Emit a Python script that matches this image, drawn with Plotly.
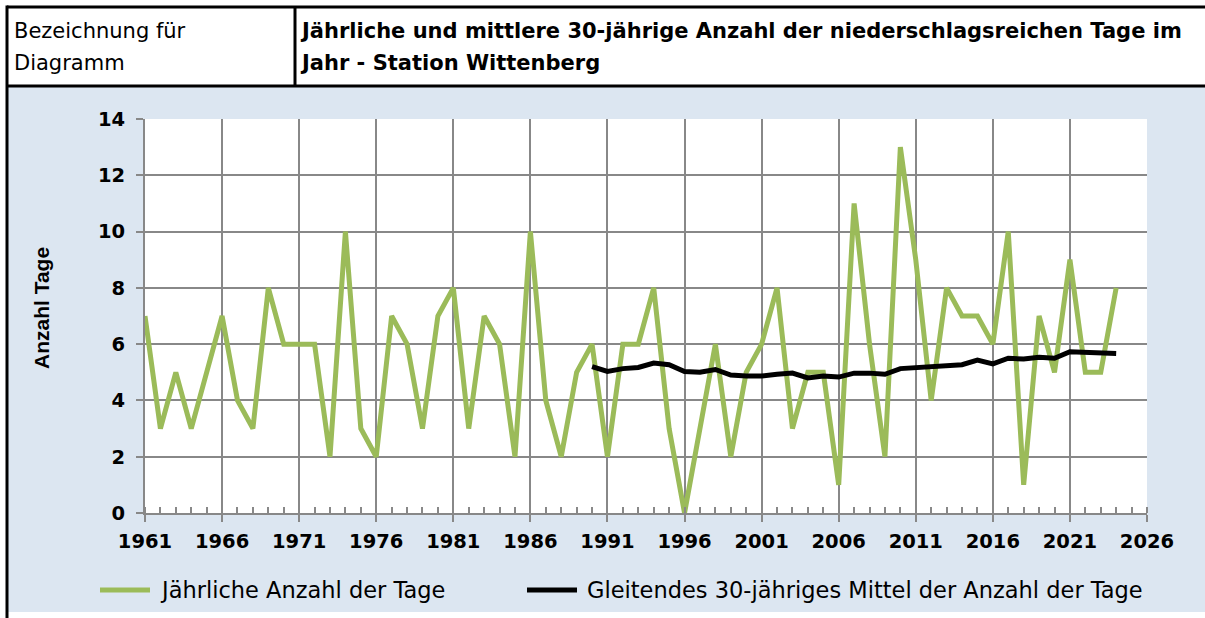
import plotly.graph_objects as go

# ---------------- data ----------------
years = list(range(1961, 2025))
annual_days = [7, 3, 5, 3, 5, 7, 4, 3, 8, 6,
               6, 6, 2, 10, 3, 2, 7, 6, 3, 7,
               8, 3, 7, 6, 2, 10, 4, 2, 5, 6,
               2, 6, 6, 8, 3, 0, 3, 6, 2, 5,
               6, 8, 3, 5, 5, 1, 11, 6, 2, 13,
               9, 4, 8, 7, 7, 6, 10, 1, 7, 5,
               9, 5, 5, 8]
mean_years = list(range(1990, 2025))
mean_30y = [5.20, 5.03, 5.13, 5.17, 5.33, 5.27, 5.03, 5.00, 5.10, 4.90,
            4.87, 4.87, 4.93, 4.97, 4.80, 4.87, 4.83, 4.97, 4.97, 4.93,
            5.13, 5.17, 5.20, 5.23, 5.27, 5.43, 5.30, 5.50, 5.47, 5.53,
            5.50, 5.73, 5.70, 5.67, 5.67]
x_ticks = list(range(1961, 2027, 5))
y_ticks = list(range(0, 15, 2))

series_names = ["Jährliche Anzahl der Tage",
                "Gleitendes 30-jähriges Mittel der Anzahl der Tage"]
header_left = ["Bezeichnung für", "Diagramm"]
header_title = ["Jährliche und mittlere 30-jährige Anzahl der niederschlagsreichen Tage im",
                "Jahr - Station Wittenberg"]
y_title = "Anzahl Tage"

# ---------------- layout geometry ----------------
W, H = 1205, 618
L, R, T, B = 145, 1147, 119, 513
GREEN = "#9BBB59"
BLUE = "#DCE6F1"
GRID = "#888888"


def px(x):
    return (x - L) / (R - L)


def py(y):
    return (B - y) / (B - T)


fig = go.Figure()
fig.add_trace(go.Scatter(x=years, y=annual_days, mode="lines",
                         line=dict(color=GREEN, width=5),
                         name=series_names[0], showlegend=False))
fig.add_trace(go.Scatter(x=mean_years, y=mean_30y, mode="lines",
                         line=dict(color="black", width=5),
                         name=series_names[1], showlegend=False))

shapes = []
# light blue chart panel
shapes.append(dict(type="rect", xref="paper", yref="paper",
                   x0=px(7), x1=px(W + 5), y0=py(86), y1=py(612),
                   fillcolor=BLUE, line=dict(width=0), layer="below"))
# white plot area
shapes.append(dict(type="rect", xref="paper", yref="paper",
                   x0=0, x1=1, y0=0, y1=1,
                   fillcolor="white", line=dict(width=0), layer="below"))
# borders
for (x0, y0, x1, y1) in [(7, 7, W + 5, 7), (7, 86, W + 5, 86),
                         (7, 5.5, 7, H + 5), (295, 7, 295, 86)]:
    shapes.append(dict(type="line", xref="paper", yref="paper",
                       x0=px(x0), x1=px(x1), y0=py(y0), y1=py(y1),
                       line=dict(color="black", width=3)))
# legend samples
shapes.append(dict(type="line", xref="paper", yref="paper",
                   x0=px(100), x1=px(150), y0=py(590), y1=py(590),
                   line=dict(color=GREEN, width=5)))
shapes.append(dict(type="line", xref="paper", yref="paper",
                   x0=px(527), x1=px(577), y0=py(590), y1=py(590),
                   line=dict(color="black", width=5)))

REG = dict(family="DejaVu Sans", size=21, color="black")
LEG = dict(family="DejaVu Sans", size=22.5, color="black")
BOLD = dict(family="DejaVu Sans", size=21, color="black", weight="bold")

annotations = []
for i, t in enumerate(header_left):
    annotations.append(dict(text=t, xref="paper", yref="paper",
                            x=px(12), y=py(31 + 32 * i), xanchor="left",
                            yanchor="middle", showarrow=False, font=REG))
for i, t in enumerate(header_title):
    annotations.append(dict(text=t, xref="paper", yref="paper",
                            x=px(298), y=py(31 + 32 * i), xanchor="left",
                            yanchor="middle", showarrow=False, font=BOLD))
annotations.append(dict(text=y_title, xref="paper", yref="paper",
                        x=px(41), y=py(308), textangle=-90,
                        xanchor="center", yanchor="middle", showarrow=False,
                        font=dict(family="Liberation Sans", size=21,
                                  color="black", weight="bold")))
annotations.append(dict(text=series_names[0], xref="paper", yref="paper",
                        x=px(158), y=py(590), xanchor="left", yanchor="middle",
                        showarrow=False, font=LEG))
annotations.append(dict(text=series_names[1], xref="paper", yref="paper",
                        x=px(585), y=py(590), xanchor="left", yanchor="middle",
                        showarrow=False, font=LEG))

TICKFONT = dict(family="DejaVu Sans", size=19.5, color="black", weight="bold")

fig.update_layout(
    width=W, height=H,
    margin=dict(l=L, r=W - R, t=T, b=H - B, pad=0),
    paper_bgcolor="white", plot_bgcolor="white",
    shapes=shapes, annotations=annotations,
    showlegend=False,
    xaxis=dict(range=[1961, 2026], tickvals=x_ticks,
               ticktext=[str(v) for v in x_ticks],
               showgrid=True, gridcolor=GRID, gridwidth=2,
               showline=True, linecolor=GRID, linewidth=2, mirror=False,
               ticks="outside", ticklen=7, tickwidth=2, tickcolor=GRID,
               tickfont=TICKFONT, ticklabelstandoff=3,
               minor=dict(ticks="inside", ticklen=6, tickwidth=1.5,
                          tickcolor=GRID, dtick=1, tick0=1961, showgrid=False),
               zeroline=False, fixedrange=True),
    yaxis=dict(range=[0, 14], tickvals=y_ticks,
               showgrid=True, gridcolor=GRID, gridwidth=2,
               showline=True, linecolor=GRID, linewidth=2,
               ticks="outside", ticklen=7, tickwidth=2, tickcolor=GRID,
               tickfont=TICKFONT, ticklabelstandoff=7,
               zeroline=False, fixedrange=True),
)

fig.write_html(
    "out.html",
    config={"displayModeBar": False},
    post_script="document.body.style.margin='0';"
                "document.body.style.padding='0';"
                "document.body.style.overflow='hidden';"
                "document.documentElement.style.overflow='hidden';",
)
